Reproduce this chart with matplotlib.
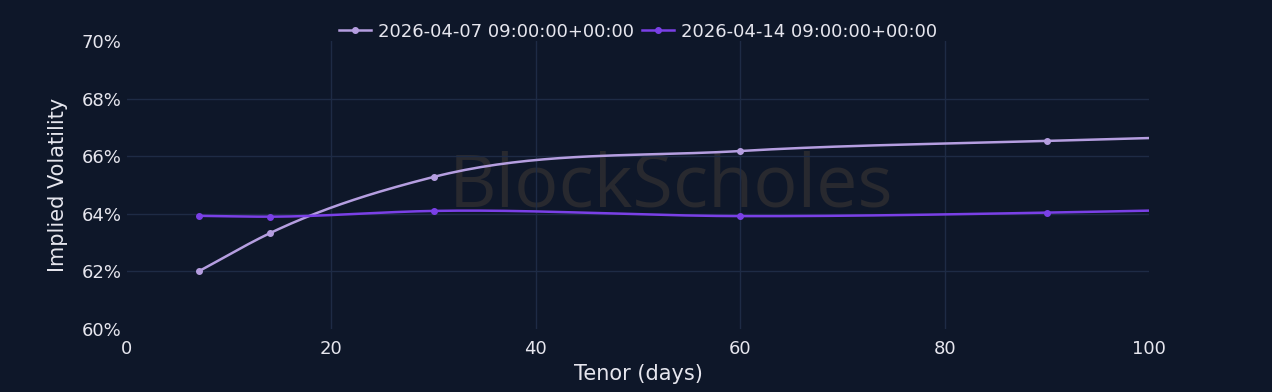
import numpy as np
import matplotlib
matplotlib.use("Agg")
import matplotlib.pyplot as plt
from matplotlib.ticker import FuncFormatter

# tenor in days and implied vol (%) for the two snapshots
tenors = [7, 14, 30, 60, 90, 100]
vol_0407 = [62.0, 63.33, 65.28, 66.18, 66.53, 66.63]
vol_0414 = [63.93, 63.90, 64.10, 63.92, 64.04, 64.11]
marked = [True, True, True, True, True, False]  # last point is just the curve end

labels = ["2026-04-07 09:00:00+00:00", "2026-04-14 09:00:00+00:00"]
colors = ["#b59ee0", "#7a40e6"]

BG = "#0e1729"
GRID = "#1e2b45"
TXT = "#e6e6ee"


# cubic hermite smoothing through the points (plotly-ish spline look)
def smooth(x, y, n=40):
    x = np.asarray(x, float)
    y = np.asarray(y, float)
    sec = np.diff(y) / np.diff(x)
    m = np.empty_like(y)
    m[0] = sec[0]
    m[-1] = sec[-1]
    for i in range(1, len(x) - 1):
        h0, h1 = x[i] - x[i - 1], x[i + 1] - x[i]
        m[i] = (h1 * sec[i - 1] + h0 * sec[i]) / (h0 + h1)
    xs, ys = [], []
    for i in range(len(x) - 1):
        t = np.linspace(0, 1, n)
        h = x[i + 1] - x[i]
        h00 = 2 * t**3 - 3 * t**2 + 1
        h10 = t**3 - 2 * t**2 + t
        h01 = -2 * t**3 + 3 * t**2
        h11 = t**3 - t**2
        xs.append(x[i] + t * h)
        ys.append(h00 * y[i] + h10 * h * m[i] + h01 * y[i + 1] + h11 * h * m[i + 1])
    return np.concatenate(xs), np.concatenate(ys)


fig = plt.figure(figsize=(12.72, 3.92), dpi=100, facecolor=BG)
ax = fig.add_axes([127 / 1272, 1 - 329 / 392, (1149 - 127) / 1272, (329 - 41) / 392])
ax.set_facecolor(BG)

# watermark
ax.text(0.532, 0.49, "BlockScholes", transform=ax.transAxes, ha="center", va="center",
        fontsize=53, color="#28292f", family="Open Sans", zorder=0.5)

for vals, lab, c in zip([vol_0407, vol_0414], labels, colors):
    sx, sy = smooth(tenors, vals)
    ax.plot(sx, sy, color=c, lw=1.8, zorder=3)
    mx = [t for t, k in zip(tenors, marked) if k]
    my = [v for v, k in zip(vals, marked) if k]
    ax.plot(mx, my, "o", color=c, ms=4, zorder=4)
    ax.plot([], [], "-o", color=c, ms=4, lw=1.8, label=lab)

ax.set_xlim(0, 100)
ax.set_ylim(60, 70)
ax.set_xticks([0, 20, 40, 60, 80, 100])
ax.set_yticks([60, 62, 64, 66, 68, 70])
ax.yaxis.set_major_formatter(FuncFormatter(lambda v, p: f"{v:.0f}%"))

# grid only on the inner ticks
for gx in [20, 40, 60, 80]:
    ax.axvline(gx, color=GRID, lw=1, zorder=1)
for gy in [62, 64, 66, 68]:
    ax.axhline(gy, color=GRID, lw=1, zorder=1)

for s in ax.spines.values():
    s.set_visible(False)
ax.tick_params(length=0, colors=TXT, labelsize=13, pad=8)
ax.tick_params(axis="y", pad=4)

ax.set_xlabel("Tenor (days)", color=TXT, fontsize=15, labelpad=4)
ax.set_ylabel("Implied Volatility", color=TXT, fontsize=15, labelpad=10)

leg = ax.legend(loc="lower center", bbox_to_anchor=(0.5, 0.945), ncol=2, frameon=False,
                fontsize=13, handlelength=1.8, columnspacing=0.4, handletextpad=0.4)
for t in leg.get_texts():
    t.set_color(TXT)

fig.savefig("out.png", dpi=100, facecolor=BG)
